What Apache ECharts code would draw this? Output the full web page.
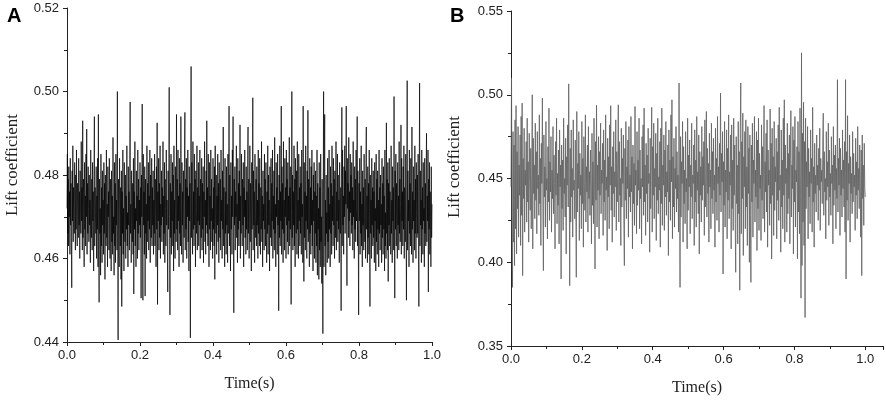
<!DOCTYPE html>
<html>
<head>
<meta charset="utf-8">
<script src="https://cdn.jsdelivr.net/npm/echarts@6/dist/echarts.min.js"></script>
<style>html,body{margin:0;padding:0;background:#fff;}#c{width:886px;height:402px;}</style>
</head>
<body>
<div id="c"></div>
<script>
// Panel A: lift coefficient samples, evenly spaced over 0..1 s
const liftA = [
0.472,0.485,0.466,0.479,0.463,0.482,0.470,0.476,0.461,0.484,0.468,0.478,0.465,0.453,0.481,0.469,0.487,0.464,0.477,0.471,
0.466,0.483,0.474,0.462,0.480,0.467,0.486,0.470,0.463,0.478,0.472,0.465,0.484,0.468,0.476,0.460,0.481,0.473,0.466,0.488,
0.469,0.477,0.462,0.493,0.465,0.479,0.471,0.458,0.483,0.467,0.475,0.463,0.485,0.470,0.491,0.461,0.478,0.466,0.482,0.472,
0.464,0.480,0.468,0.474,0.459,0.486,0.470,0.465,0.479,0.462,0.483,0.469,0.476,0.457,0.481,0.494,0.463,0.477,0.471,0.466,
0.482,0.460,0.475,0.467,0.484,0.458,0.4945,0.464,0.4495,0.479,0.466,0.472,0.456,0.485,0.463,0.477,0.459,0.481,0.468,0.474,
0.461,0.483,0.466,0.478,0.455,0.480,0.469,0.463,0.486,0.465,0.473,0.458,0.482,0.470,0.476,0.462,0.484,0.467,0.460,0.479,
0.472,0.457,0.481,0.464,0.475,0.461,0.489,0.466,0.470,0.456,0.483,0.463,0.478,0.459,0.485,0.468,0.474,0.462,0.500,0.465,
0.4405,0.479,0.467,0.458,0.484,0.470,0.463,0.477,0.455,0.481,0.4485,0.476,0.466,0.486,0.461,0.472,0.457,0.483,0.469,0.464,
0.480,0.460,0.475,0.467,0.487,0.463,0.471,0.458,0.482,0.468,0.476,0.462,0.485,0.4975,0.466,0.473,0.459,0.481,0.470,0.464,
0.478,0.461,0.484,0.4515,0.476,0.467,0.488,0.463,0.472,0.458,0.481,0.469,0.475,0.460,0.486,0.466,0.479,0.462,0.474,0.468,
0.483,0.465,0.477,0.4505,0.480,0.470,0.497,0.463,0.450,0.485,0.468,0.476,0.461,0.482,0.451,0.479,0.466,0.473,0.460,0.487,
0.464,0.478,0.469,0.483,0.462,0.475,0.467,0.486,0.459,0.480,0.471,0.465,0.484,0.463,0.477,0.468,0.481,0.461,0.474,0.466,
0.485,0.463,0.479,0.470,0.458,0.482,0.467,0.4925,0.449,0.476,0.469,0.484,0.462,0.478,0.465,0.487,0.460,0.473,0.468,0.481,
0.464,0.477,0.470,0.488,0.461,0.475,0.466,0.483,0.459,0.479,0.472,0.463,0.486,0.468,0.474,0.462,0.452,0.481,0.467,0.484,
0.501,0.470,0.4465,0.478,0.465,0.485,0.461,0.476,0.469,0.483,0.463,0.480,0.457,0.487,0.466,0.474,0.460,0.482,0.471,0.464,
0.4945,0.467,0.479,0.462,0.486,0.469,0.475,0.458,0.484,0.466,0.478,0.463,0.494,0.470,0.461,0.483,0.468,0.476,0.459,0.481,
0.473,0.465,0.487,0.495,0.462,0.479,0.467,0.484,0.460,0.477,0.470,0.486,0.464,0.475,0.457,0.482,0.469,0.478,0.441,0.480,
0.506,0.465,0.483,0.470,0.461,0.488,0.467,0.476,0.463,0.485,0.468,0.479,0.458,0.481,0.472,0.466,0.487,0.462,0.477,0.469,
0.483,0.463,0.475,0.468,0.486,0.460,0.479,0.471,0.465,0.484,0.462,0.478,0.467,0.482,0.459,0.476,0.470,0.488,0.464,0.474,
0.461,0.481,0.468,0.493,0.466,0.477,0.463,0.485,0.470,0.458,0.483,0.467,0.475,0.462,0.486,0.469,0.479,0.464,0.472,0.460,
0.484,0.467,0.477,0.463,0.482,0.455,0.487,0.470,0.466,0.480,0.461,0.475,0.468,0.485,0.464,0.478,0.459,0.483,0.471,0.465,
0.479,0.462,0.486,0.469,0.474,0.460,0.481,0.467,0.4915,0.463,0.477,0.470,0.458,0.484,0.466,0.476,0.461,0.482,0.468,0.473,
0.459,0.485,0.466,0.478,0.4965,0.463,0.480,0.469,0.457,0.483,0.467,0.475,0.461,0.486,0.470,0.494,0.464,0.447,0.479,0.468,
0.482,0.462,0.476,0.470,0.487,0.465,0.473,0.459,0.484,0.467,0.478,0.463,0.481,0.469,0.492,0.460,0.475,0.466,0.485,0.471,
0.463,0.479,0.468,0.483,0.458,0.477,0.470,0.486,0.465,0.474,0.461,0.482,0.467,0.476,0.462,0.484,0.4915,0.466,0.479,0.460,
0.473,0.487,0.464,0.478,0.469,0.457,0.483,0.467,0.475,0.4985,0.462,0.481,0.468,0.476,0.459,0.485,0.470,0.465,0.479,0.463,
0.482,0.468,0.474,0.460,0.486,0.466,0.478,0.463,0.484,0.470,0.461,0.477,0.467,0.488,0.464,0.475,0.458,0.481,0.469,0.473,
0.462,0.485,0.467,0.479,0.463,0.483,0.470,0.459,0.476,0.466,0.487,0.461,0.480,0.468,0.474,0.457,0.482,0.471,0.465,0.484,
0.463,0.478,0.469,0.486,0.460,0.475,0.467,0.481,0.462,0.489,0.466,0.473,0.458,0.483,0.470,0.477,0.461,0.485,0.468,0.474,
0.4475,0.480,0.465,0.487,0.463,0.476,0.469,0.4965,0.461,0.482,0.467,0.478,0.459,0.488,0.466,0.474,0.462,0.484,0.470,0.477,
0.460,0.486,0.468,0.479,0.464,0.483,0.461,0.475,0.469,0.489,0.463,0.477,0.467,0.482,0.449,0.471,0.500,0.465,0.480,0.462,
0.476,0.468,0.487,0.463,0.479,0.458,0.484,0.470,0.466,0.481,0.461,0.488,0.467,0.474,0.460,0.485,0.469,0.477,0.463,0.482,
0.466,0.478,0.461,0.486,0.470,0.473,0.459,0.4965,0.468,0.4545,0.483,0.465,0.476,0.462,0.487,0.469,0.475,0.460,0.481,0.467,
0.4955,0.464,0.479,0.470,0.458,0.484,0.466,0.477,0.461,0.482,0.468,0.486,0.463,0.474,0.457,0.480,0.469,0.483,0.460,0.476,
0.466,0.481,0.459,0.475,0.463,0.486,0.456,0.478,0.467,0.472,0.455,0.483,0.462,0.477,0.458,0.485,0.464,0.470,0.454,0.479,
0.461,0.442,0.476,0.500,0.458,0.482,0.4945,0.463,0.474,0.456,0.480,0.466,0.471,0.459,0.484,0.464,0.477,0.460,0.486,0.467,
0.473,0.458,0.482,0.466,0.478,0.461,0.487,0.469,0.475,0.463,0.484,0.468,0.479,0.460,0.481,0.470,0.465,0.488,0.462,0.476,
0.469,0.485,0.464,0.480,0.467,0.474,0.459,0.483,0.471,0.466,0.477,0.4475,0.479,0.4962,0.463,0.486,0.468,0.475,0.461,0.482,
0.470,0.487,0.466,0.481,0.473,0.4965,0.468,0.4535,0.484,0.472,0.478,0.465,0.489,0.469,0.476,0.463,0.485,0.471,0.480,0.466,
0.483,0.468,0.477,0.462,0.488,0.470,0.474,0.460,0.482,0.467,0.479,0.464,0.486,0.469,0.472,0.494,0.463,0.481,0.466,0.4465,
0.478,0.469,0.484,0.461,0.476,0.466,0.487,0.463,0.473,0.458,0.481,0.468,0.477,0.462,0.485,0.470,0.464,0.479,0.460,0.483,
0.4915,0.467,0.475,0.459,0.482,0.465,0.478,0.461,0.486,0.469,0.4485,0.480,0.466,0.474,0.460,0.484,0.468,0.477,0.463,0.481,
0.465,0.476,0.459,0.483,0.469,0.472,0.457,0.485,0.464,0.479,0.461,0.481,0.467,0.474,0.458,0.486,0.466,0.477,0.462,0.480,
0.468,0.473,0.459,0.484,0.465,0.478,0.461,0.482,0.467,0.475,0.457,0.486,0.463,0.471,0.460,0.4925,0.466,0.479,0.462,0.483,
0.4545,0.478,0.468,0.484,0.463,0.476,0.470,0.461,0.487,0.466,0.474,0.459,0.482,0.469,0.477,0.462,0.4988,0.468,0.4505,0.481,
0.467,0.485,0.463,0.478,0.470,0.460,0.483,0.468,0.475,0.462,0.488,0.466,0.479,0.464,0.473,0.492,0.461,0.484,0.469,0.476,
0.463,0.482,0.467,0.487,0.460,0.477,0.470,0.464,0.485,0.468,0.450,0.479,0.5026,0.462,0.481,0.469,0.474,0.458,0.486,0.466,
0.478,0.463,0.484,0.470,0.461,0.4915,0.467,0.476,0.459,0.482,0.469,0.474,0.462,0.487,0.466,0.479,0.460,0.483,0.471,0.465,
0.480,0.466,0.485,0.462,0.4485,0.476,0.502,0.463,0.481,0.468,0.474,0.459,0.486,0.467,0.477,0.461,0.483,0.469,0.472,0.458,
0.484,0.466,0.478,0.463,0.481,0.490,0.464,0.475,0.469,0.486,0.452,0.479,0.467,0.483,0.461,0.476,0.470,0.458,0.482,0.465,
0.473
];
// Panel B: lift coefficient samples, evenly spaced over 0..1 s
const liftB = [
0.445,0.510,0.428,0.385,0.478,0.412,0.470,0.398,0.485,0.420,0.4935,0.405,0.466,0.432,0.481,0.415,0.458,0.440,0.476,0.410,0.487,0.428,0.495,0.392,0.462,
0.438,0.480,0.418,0.455,0.446,0.472,0.424,0.486,0.436,0.460,0.412,0.477,0.448,0.431,0.468,0.420,0.452,0.500,0.408,0.474,0.441,0.458,0.426,0.483,0.437,
0.466,0.417,0.478,0.444,0.452,0.428,0.488,0.435,0.462,0.410,0.471,0.447,0.498,0.430,0.395,0.476,0.439,0.457,0.421,0.484,0.443,0.450,0.414,0.469,0.436,
0.492,0.425,0.460,0.442,0.475,0.418,0.455,0.438,0.481,0.429,0.464,0.447,0.408,0.472,0.440,0.486,0.423,0.453,0.434,0.467,0.411,0.479,0.445,0.458,0.390,
0.470,0.432,0.461,0.419,0.486,0.441,0.450,0.427,0.474,0.405,0.463,0.446,0.482,0.433,0.5065,0.452,0.386,0.468,0.424,0.479,0.439,0.456,0.415,0.485,0.443,
0.449,0.426,0.473,0.437,0.391,0.490,0.430,0.459,0.444,0.478,0.413,0.465,0.440,0.452,0.420,0.484,0.435,0.462,0.409,0.475,0.447,0.431,0.488,0.424,0.457,
0.442,0.470,0.418,0.481,0.438,0.454,0.428,0.467,0.445,0.411,0.477,0.434,0.460,0.423,0.486,0.448,0.396,0.472,0.437,0.4937,0.421,0.458,0.443,0.475,0.414,
0.466,0.440,0.483,0.429,0.455,0.447,0.471,0.416,0.479,0.436,0.461,0.425,0.488,0.443,0.451,0.407,0.474,0.439,0.463,0.420,0.482,0.446,0.4935,0.431,0.457,
0.412,0.469,0.441,0.478,0.427,0.454,0.445,0.485,0.419,0.466,0.436,0.459,0.494,0.424,0.472,0.440,0.450,0.410,0.480,0.433,0.462,0.447,0.476,0.421,0.398,
0.468,0.437,0.484,0.426,0.457,0.444,0.473,0.415,0.481,0.439,0.452,0.430,0.487,0.442,0.463,0.408,0.470,0.435,0.459,0.422,0.493,0.446,0.455,0.417,0.478,
0.434,0.461,0.443,0.486,0.420,0.467,0.438,0.450,0.411,0.475,0.445,0.482,0.428,0.492,0.436,0.458,0.416,0.471,0.441,0.464,0.424,0.480,0.447,0.453,0.406,
0.474,0.432,0.460,0.4925,0.418,0.469,0.440,0.483,0.426,0.456,0.445,0.477,0.413,0.465,0.437,0.486,0.429,0.451,0.443,0.472,0.409,0.480,0.435,0.492,0.422,
0.458,0.446,0.476,0.419,0.467,0.439,0.484,0.428,0.454,0.442,0.470,0.404,0.479,0.436,0.461,0.425,0.488,0.448,0.497,0.414,0.463,0.433,0.474,0.421,0.456,
0.444,0.481,0.430,0.466,0.438,0.452,0.418,0.507,0.441,0.385,0.475,0.427,0.460,0.447,0.484,0.412,0.469,0.435,0.455,0.423,0.478,0.442,0.450,0.408,0.486,
0.431,0.464,0.445,0.473,0.417,0.458,0.439,0.483,0.426,0.452,0.447,0.470,0.410,0.479,0.436,0.461,0.421,0.487,0.443,0.454,0.429,0.476,0.405,0.466,0.440,
0.457,0.424,0.481,0.437,0.463,0.446,0.472,0.416,0.485,0.433,0.451,0.490,0.427,0.468,0.441,0.459,0.412,0.477,0.445,0.455,0.420,0.483,0.438,0.466,0.429,
0.474,0.443,0.452,0.409,0.480,0.436,0.462,0.425,0.487,0.447,0.457,0.418,0.471,0.440,0.501,0.430,0.465,0.448,0.478,0.393,0.460,0.434,0.484,0.421,0.455,
0.442,0.479,0.414,0.468,0.437,0.488,0.426,0.454,0.446,0.476,0.408,0.482,0.432,0.461,0.419,0.486,0.440,0.470,0.423,0.394,0.475,0.435,0.458,0.411,0.484,
0.429,0.466,0.3833,0.480,0.507,0.417,0.472,0.438,0.489,0.404,0.463,0.445,0.478,0.420,0.485,0.433,0.457,0.410,0.481,0.441,0.468,0.400,0.476,0.428,0.388,
0.470,0.436,0.483,0.415,0.461,0.447,0.487,0.424,0.455,0.439,0.478,0.407,0.473,0.432,0.486,0.419,0.465,0.444,0.452,0.413,0.482,0.437,0.469,0.426,0.458,
0.4935,0.418,0.460,0.442,0.477,0.430,0.485,0.409,0.467,0.446,0.455,0.422,0.4915,0.435,0.471,0.402,0.480,0.440,0.463,0.416,0.484,0.431,0.457,0.448,0.474,
0.414,0.466,0.437,0.482,0.425,0.4925,0.443,0.452,0.406,0.479,0.433,0.461,0.420,0.486,0.440,0.497,0.412,0.470,0.447,0.456,0.418,0.483,0.429,0.465,0.438,
0.476,0.411,0.462,0.4905,0.427,0.458,0.444,0.481,0.405,0.473,0.436,0.487,0.421,0.455,0.448,0.469,0.402,0.484,0.430,0.466,0.417,0.492,0.440,0.3786,0.525,
0.398,0.477,0.424,0.4955,0.410,0.472,0.367,0.486,0.432,0.460,0.445,0.481,0.414,0.468,0.439,0.454,0.423,0.479,0.447,0.462,0.418,0.4925,0.436,0.457,0.409,
0.471,0.441,0.452,0.430,0.476,0.446,0.458,0.425,0.468,0.443,0.480,0.419,0.462,0.448,0.455,0.435,0.473,0.489,0.428,0.466,0.442,0.450,0.414,0.478,0.437,
0.460,0.445,0.483,0.422,0.467,0.439,0.453,0.428,0.475,0.447,0.458,0.411,0.481,0.434,0.464,0.443,0.470,0.420,0.456,0.438,0.509,0.430,0.462,0.446,0.474,
0.416,0.468,0.440,0.455,0.427,0.479,0.444,0.461,0.433,0.472,0.418,0.509,0.390,0.466,0.437,0.4875,0.425,0.459,0.447,0.476,0.412,0.463,0.441,0.453,0.429,
0.478,0.436,0.465,0.445,0.452,0.419,0.474,0.440,0.460,0.426,0.481,0.443,0.456,0.432,0.470,0.447,0.415,0.467,0.392,0.476,0.438,0.458,0.422,0.471,0.444,
0.439
];
const panelLabels = ['A', 'B'];
const xTitle = 'Time(s)';
const yTitle = 'Lift coefficient';
const timeEnd = 1.0;

function toPairs(vals) {
  return vals.map((v, i) => [timeEnd * i / (vals.length - 1), v]);
}

const sans = 'Liberation Sans, Arial, sans-serif';
const serif = 'Liberation Serif, Times New Roman, serif';
const axisColor = '#222';

function xAxisCfg(gridIndex, max) {
  return {
    type: 'value', gridIndex, min: 0, max, interval: 0.2,
    name: xTitle, nameLocation: 'middle', nameGap: 34,
    nameTextStyle: { fontFamily: serif, fontSize: 16, color: '#222' },
    axisLine: { show: true, lineStyle: { color: axisColor, width: 1 } },
    axisTick: { show: true, inside: false, length: 4, lineStyle: { color: axisColor } },
    minorTick: { show: true, splitNumber: 2, length: 3, lineStyle: { color: axisColor } },
    splitLine: { show: false },
    axisLabel: { fontFamily: sans, fontSize: 13, color: '#222', margin: 7, showMaxLabel: max === 1,
      formatter: v => v.toFixed(1) }
  };
}
function yAxisCfg(gridIndex, min, max, interval) {
  return {
    type: 'value', gridIndex, min, max, interval,
    axisLine: { show: true, lineStyle: { color: axisColor, width: 1 } },
    axisTick: { show: true, inside: false, length: 4, lineStyle: { color: axisColor } },
    minorTick: { show: true, splitNumber: 2, length: 3, lineStyle: { color: axisColor } },
    splitLine: { show: false },
    axisLabel: { fontFamily: sans, fontSize: 13, color: '#222', margin: 8,
      formatter: v => v.toFixed(2) }
  };
}
function yTitleText(x, y) {
  return {
    type: 'text', x, y, rotation: Math.PI / 2, silent: true,
    style: { text: yTitle, fill: '#222', font: '17px ' + serif,
      align: 'center', verticalAlign: 'middle', textAlign: 'center', textVerticalAlign: 'middle' }
  };
}

const chart = echarts.init(document.getElementById('c'), null, { renderer: 'canvas' });
chart.setOption({
  animation: false,
  backgroundColor: '#fff',
  title: [
    { text: panelLabels[0], left: 2, top: 1, textStyle: { fontFamily: sans, fontSize: 20, fontWeight: 'bold', color: '#000' } },
    { text: panelLabels[1], left: 445, top: 1, textStyle: { fontFamily: sans, fontSize: 20, fontWeight: 'bold', color: '#000' } }
  ],
  graphic: [yTitleText(12.5, 165), yTitleText(454.5, 167)],
  grid: [
    { left: 67, top: 8, width: 365, height: 334 },
    { left: 511, top: 11, width: 372, height: 335 }
  ],
  xAxis: [xAxisCfg(0, 1), xAxisCfg(1, 1.05)],
  yAxis: [yAxisCfg(0, 0.44, 0.52, 0.02), yAxisCfg(1, 0.35, 0.55, 0.05)],
  series: [
    { type: 'line', xAxisIndex: 0, yAxisIndex: 0, data: toPairs(liftA), showSymbol: false, symbol: 'none',
      sampling: null, lineStyle: { color: '#000', width: 0.7 }, silent: true },
    { type: 'line', xAxisIndex: 1, yAxisIndex: 1, data: toPairs(liftB), showSymbol: false, symbol: 'none',
      sampling: null, lineStyle: { color: '#606060', width: 0.8 }, silent: true }
  ]
});
</script>
</body>
</html>
